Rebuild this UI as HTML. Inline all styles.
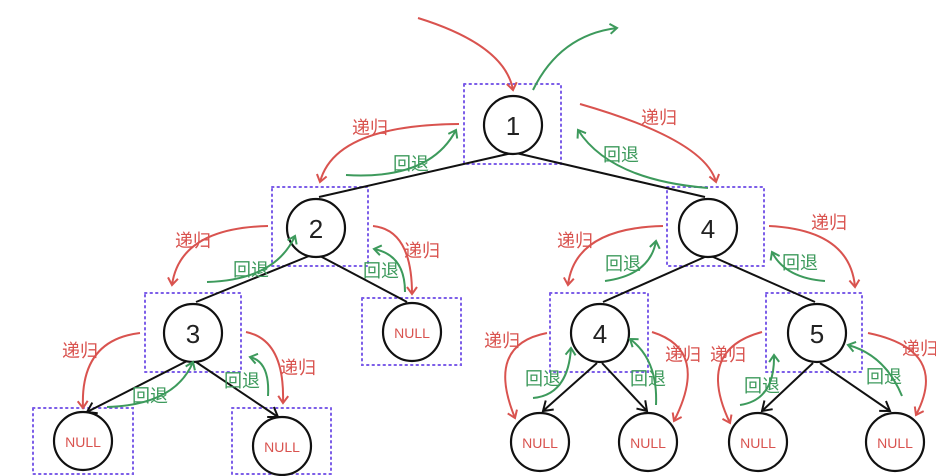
<!DOCTYPE html>
<html><head><meta charset="utf-8"><style>
html,body{margin:0;padding:0;background:#fff;}
svg{display:block;}
.n{fill:#fff;stroke:#111;stroke-width:2.2}
.t{font-family:"Liberation Sans","Noto Sans CJK SC",sans-serif;fill:#222;font-size:26px;text-anchor:middle;dominant-baseline:central}
.nl{font-family:"Liberation Sans","Noto Sans CJK SC",sans-serif;fill:#d9534f;font-size:14px;text-anchor:middle;dominant-baseline:central}
.b{fill:none;stroke:#7b5ce8;stroke-width:2;stroke-dasharray:1.5 4;stroke-linecap:round}
.e{stroke:#111;stroke-width:2;fill:none}
.r{stroke:#d9534f;stroke-width:2;fill:none}
.g{stroke:#3d9a5c;stroke-width:2;fill:none}
.lr{font-family:"Noto Sans CJK SC",sans-serif;fill:#d9534f;font-size:18px;text-anchor:middle;dominant-baseline:central}
.lg{font-family:"Noto Sans CJK SC",sans-serif;fill:#3d9a5c;font-size:18px;text-anchor:middle;dominant-baseline:central}
</style></head><body>
<svg width="936" height="476" viewBox="0 0 936 476" xmlns="http://www.w3.org/2000/svg">
<defs>
<marker id="ar" markerWidth="12" markerHeight="12" refX="9" refY="6" orient="auto" markerUnits="userSpaceOnUse"><path d="M2,1 L9,6 L2,11" fill="none" stroke="#d9534f" stroke-width="2"/></marker>
<marker id="ag" markerWidth="12" markerHeight="12" refX="9" refY="6" orient="auto" markerUnits="userSpaceOnUse"><path d="M2,1 L9,6 L2,11" fill="none" stroke="#3d9a5c" stroke-width="2"/></marker>
<marker id="ak" markerWidth="14" markerHeight="14" refX="11" refY="7" orient="auto" markerUnits="userSpaceOnUse"><path d="M2,1 L11,7 L2,13" fill="none" stroke="#111" stroke-width="2"/></marker>
</defs>
<!-- boxes -->
<rect class="b" x="464" y="84" width="97" height="80"/>
<rect class="b" x="272" y="187" width="96" height="79"/>
<rect class="b" x="667" y="187" width="97" height="79"/>
<rect class="b" x="145" y="293" width="96" height="79"/>
<rect class="b" x="362" y="298" width="99" height="67"/>
<rect class="b" x="550" y="293" width="98" height="79"/>
<rect class="b" x="766" y="293" width="96" height="79"/>
<rect class="b" x="33" y="408" width="100" height="66"/>
<rect class="b" x="232" y="408" width="99" height="66"/>
<!-- edges -->
<line class="e" x1="512" y1="153" x2="319" y2="197"/>
<line class="e" x1="516" y1="153" x2="705" y2="197"/>
<line class="e" x1="309" y1="256" x2="196" y2="302"/>
<line class="e" x1="320" y1="256" x2="407" y2="302"/>
<line class="e" x1="707" y1="256" x2="603" y2="302"/>
<line class="e" x1="711" y1="256" x2="815" y2="302"/>
<line class="e" x1="187" y1="361" x2="87" y2="412" marker-end="url(#ak)"/>
<line class="e" x1="196" y1="362" x2="278" y2="417" marker-end="url(#ak)"/>
<line class="e" x1="597" y1="363" x2="543" y2="411" marker-end="url(#ak)"/>
<line class="e" x1="602" y1="363" x2="647" y2="411" marker-end="url(#ak)"/>
<line class="e" x1="813" y1="363" x2="762" y2="411" marker-end="url(#ak)"/>
<line class="e" x1="820" y1="363" x2="890" y2="411" marker-end="url(#ak)"/>
<!-- nodes -->
<circle class="n" cx="513" cy="125" r="29"/><text class="t" x="513" y="126">1</text>
<circle class="n" cx="316" cy="228" r="29"/><text class="t" x="316" y="229">2</text>
<circle class="n" cx="708" cy="228" r="29"/><text class="t" x="708" y="229">4</text>
<circle class="n" cx="193" cy="333" r="29"/><text class="t" x="193" y="334">3</text>
<circle class="n" cx="600" cy="333" r="29"/><text class="t" x="600" y="334">4</text>
<circle class="n" cx="817" cy="333" r="29"/><text class="t" x="817" y="334">5</text>
<circle class="n" cx="412" cy="332" r="29"/><text class="nl" x="412" y="333">NULL</text>
<circle class="n" cx="83" cy="441" r="29"/><text class="nl" x="83" y="442">NULL</text>
<circle class="n" cx="282" cy="446" r="29"/><text class="nl" x="282" y="447">NULL</text>
<circle class="n" cx="540" cy="442" r="29"/><text class="nl" x="540" y="443">NULL</text>
<circle class="n" cx="648" cy="442" r="29"/><text class="nl" x="648" y="443">NULL</text>
<circle class="n" cx="758" cy="442" r="29"/><text class="nl" x="758" y="443">NULL</text>
<circle class="n" cx="895" cy="442" r="29"/><text class="nl" x="895" y="443">NULL</text>
<!-- top -->
<path class="r" d="M418,18 Q505,45 513,90" marker-end="url(#ar)"/>
<path class="g" d="M533,90 Q560,35 617,28" marker-end="url(#ag)"/>
<!-- 1 -> 2 -->
<path class="r" d="M459,124 Q335,125 320,182" marker-end="url(#ar)"/>
<text class="lr" x="370" y="127">递归</text>
<path class="g" d="M346,175 Q430,180 456,130" marker-end="url(#ag)"/>
<text class="lg" x="411" y="163">回退</text>
<!-- 1 -> 4 -->
<path class="r" d="M580,104 Q705,140 716,182" marker-end="url(#ar)"/>
<text class="lr" x="659" y="117">递归</text>
<path class="g" d="M708,188 Q610,180 578,130" marker-end="url(#ag)"/>
<text class="lg" x="621" y="154">回退</text>
<!-- 2 -> 3 -->
<path class="r" d="M268,226 Q180,228 172,285" marker-end="url(#ar)"/>
<text class="lr" x="193" y="240">递归</text>
<path class="g" d="M207,282 Q275,280 295,236" marker-end="url(#ag)"/>
<text class="lg" x="251" y="269">回退</text>
<!-- 2 -> NULL -->
<path class="r" d="M373,226 Q412,230 412,294" marker-end="url(#ar)"/>
<text class="lr" x="422" y="250">递归</text>
<path class="g" d="M405,292 Q405,255 374,249" marker-end="url(#ag)"/>
<text class="lg" x="381" y="270">回退</text>
<!-- 4 -> 4b -->
<path class="r" d="M663,226 Q575,228 568,285" marker-end="url(#ar)"/>
<text class="lr" x="575" y="240">递归</text>
<path class="g" d="M605,281 Q650,275 656,241" marker-end="url(#ag)"/>
<text class="lg" x="623" y="263">回退</text>
<!-- 4 -> 5 -->
<path class="r" d="M769,226 Q850,230 855,287" marker-end="url(#ar)"/>
<text class="lr" x="829" y="222">递归</text>
<path class="g" d="M825,281 Q785,278 772,252" marker-end="url(#ag)"/>
<text class="lg" x="800" y="262">回退</text>
<!-- 3 children -->
<path class="r" d="M140,333 Q80,340 83,408" marker-end="url(#ar)"/>
<text class="lr" x="80" y="350">递归</text>
<path class="g" d="M107,407 Q175,405 193,362" marker-end="url(#ag)"/>
<text class="lg" x="150" y="395">回退</text>
<path class="r" d="M246,332 Q285,340 283,403" marker-end="url(#ar)"/>
<text class="lr" x="298" y="367">递归</text>
<path class="g" d="M268,396 Q270,362 250,357" marker-end="url(#ag)"/>
<text class="lg" x="242" y="380">回退</text>
<!-- 4b children -->
<path class="r" d="M547,333 Q485,345 515,418" marker-end="url(#ar)"/>
<text class="lr" x="502" y="340">递归</text>
<path class="g" d="M533,398 Q568,395 571,348" marker-end="url(#ag)"/>
<text class="lg" x="543" y="378">回退</text>
<path class="r" d="M652,332 Q710,350 674,421" marker-end="url(#ar)"/>
<text class="lr" x="683" y="354">递归</text>
<path class="g" d="M656,405 Q658,360 630,339" marker-end="url(#ag)"/>
<text class="lg" x="648" y="378">回退</text>
<!-- 5 children -->
<path class="r" d="M762,332 Q695,350 730,423" marker-end="url(#ar)"/>
<text class="lr" x="728" y="354">递归</text>
<path class="g" d="M740,405 Q775,400 774,355" marker-end="url(#ag)"/>
<text class="lg" x="762" y="385">回退</text>
<path class="r" d="M868,333 Q950,350 916,415" marker-end="url(#ar)"/>
<text class="lr" x="920" y="348">递归</text>
<path class="g" d="M902,396 Q885,355 848,345" marker-end="url(#ag)"/>
<text class="lg" x="884" y="376">回退</text>
</svg>
</body></html>
